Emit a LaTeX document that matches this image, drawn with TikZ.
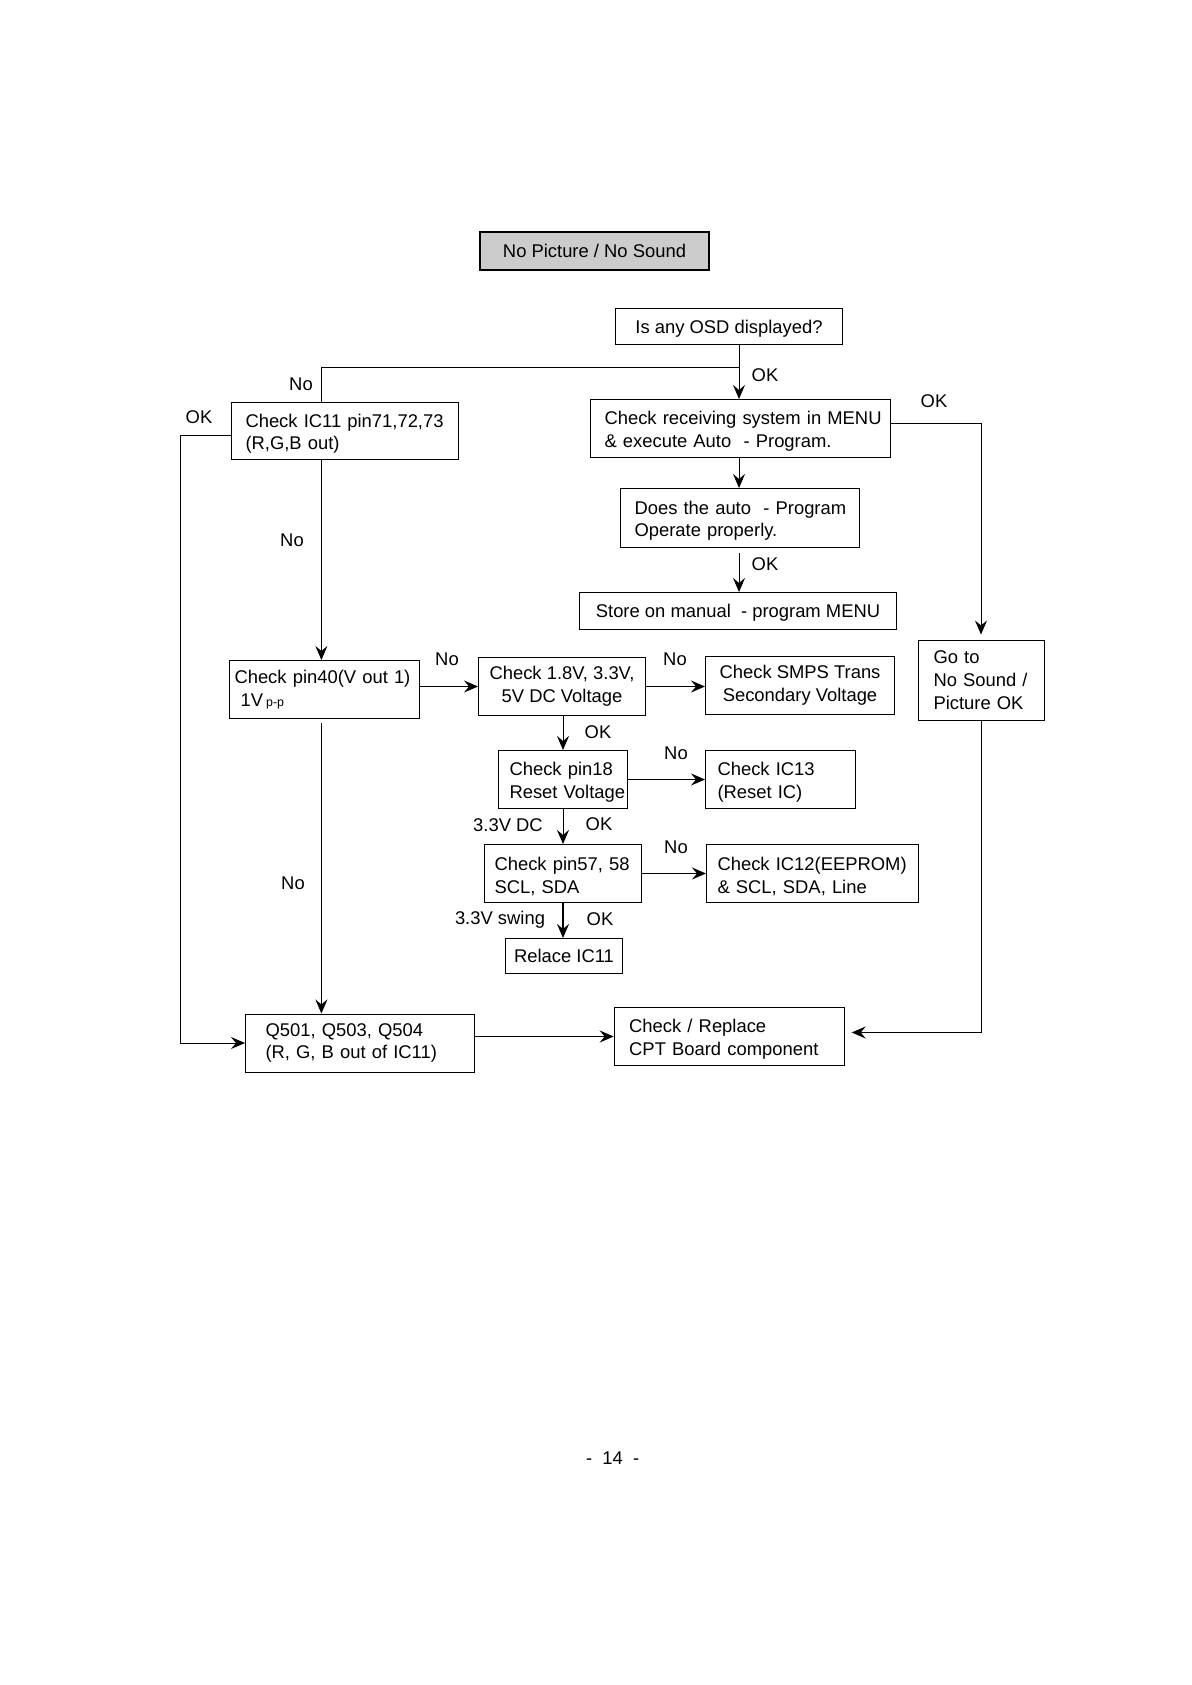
\documentclass[tikz,border=0pt]{standalone}
\usepackage{fontspec}
\setmainfont{Liberation Sans}
\usetikzlibrary{arrows.meta,calc}
\newcommand\mainfs{\fontsize{9.2}{11.3}\selectfont}
\newcommand\smallfs{\fontsize{6.2}{7}\selectfont}
\newcommand\tstrut{\rule{0pt}{9.4pt}}
\begin{document}
\begin{tikzpicture}[x=0.5pt,y=-0.5pt,
  every node/.style={font=\mainfs, inner sep=0pt},
  box/.style={draw, line width=0.5pt, anchor=north west, inner ysep=0pt},
  cbox/.style={box, align=center},
  lbox/.style={box, align=left},
  onel/.style={text depth=0pt},
  ml/.style={execute at begin node=\tstrut},
  ln/.style={line width=0.5pt},
  arr/.style={line width=0.5pt, -{Stealth[length=7pt,width=6pt,inset=2.5pt]}},
  arrthick/.style={line width=0.9pt, -{Stealth[length=7pt,width=6pt,inset=2.5pt]}},
  lab/.style={anchor=center}
]
\fill[white] (0,0) rectangle (1192,1685);
\useasboundingbox (0,0) rectangle (1192,1685);

% columns / rows
\coordinate (cL) at (321.4,0);
\coordinate (cM) at (739,0);
\coordinate (cR) at (981,0);
\coordinate (cLL) at (180.6,0);
\coordinate (cC) at (563,0);
\coordinate (jNo) at (739,367.6);
\coordinate (rOK) at (0,435);
\coordinate (rRecv) at (0,423.5);

% boxes
\node[cbox, fill=black!20, line width=1pt, minimum width=114.5pt, minimum height=19pt] (title) at (479,231) {No Picture / No Sound};
\node[cbox, onel, minimum width=113.5pt, minimum height=18pt] (osd) at (615,308) {Is any OSD displayed?};
\node[lbox, ml, inner xsep=7pt, text width=99.5pt, minimum height=28.5pt] (ic11) at (231,402)
  {\mbox{Check IC11 pin71,72,73}\\\mbox{(R,G,B out)}};
\node[lbox, ml, inner xsep=7pt, text width=136pt, minimum height=29pt] (recv) at (590,399)
  {\mbox{Check receiving system in MENU}\\\mbox{\& execute Auto\ \ - Program.}};
\node[lbox, ml, inner xsep=7pt, text width=105.5pt, minimum height=29.5pt] (does) at (620,488)
  {\mbox{Does the auto\ \ - Program}\\\mbox{Operate properly.}};
\node[cbox, onel, minimum width=158.5pt, minimum height=18.5pt] (store) at (579,592) {Store on manual\ \ - program MENU};
\node[lbox, inner xsep=7.5pt, text width=48pt, minimum height=40.25pt] (goto) at (918,639.5)
  {\mbox{Go to}\\\mbox{No Sound /}\\\mbox{Picture OK}};
\node[lbox, inner xsep=2.5pt, text width=90pt, minimum height=29pt] (pin40) at (229,660)
  {\mbox{Check pin40(V out 1)}\\\mbox{\ 1V\,{\smallfs p-p}}};
\node[cbox, ml, minimum width=83.5pt, minimum height=29pt] (v18) at (478,657)
  {Check 1.8V, 3.3V,\\5V DC Voltage};
\node[cbox, ml, minimum width=94.5pt, minimum height=29pt] (smps) at (705,656)
  {Check SMPS Trans\\Secondary Voltage};
\node[lbox, ml, inner xsep=5.5pt, text width=53.5pt, minimum height=29pt] (pin18) at (498,750)
  {\mbox{Check pin18}\\\mbox{Reset Voltage}};
\node[lbox, ml, inner xsep=6pt, text width=62.75pt, minimum height=29pt] (ic13) at (705,750)
  {\mbox{Check IC13}\\\mbox{(Reset IC)}};
\node[lbox, ml, inner xsep=5pt, text width=68.5pt, minimum height=29pt] (pin57) at (484,844)
  {\mbox{Check pin57, 58}\\\mbox{SCL, SDA}};
\node[lbox, ml, inner xsep=5.5pt, text width=95pt, minimum height=29pt] (ic12) at (706,844)
  {\mbox{Check IC12(EEPROM)}\\\mbox{\& SCL, SDA, Line}};
\node[cbox, minimum width=58.5pt, minimum height=17.5pt] (relace) at (505,938) {Relace IC11};
\node[lbox, inner xsep=10pt, text width=94.5pt, minimum height=29pt] (q501) at (245,1013.5)
  {\mbox{Q501, Q503, Q504}\\\mbox{(R, G, B out of IC11)}};
\node[lbox, ml, inner xsep=7.5pt, text width=100pt, minimum height=29pt] (chk) at (613.7,1007)
  {\mbox{Check / Replace}\\\mbox{CPT Board component}};

% connectors
\draw[arr] (osd.south -| cM) -- (recv.north -| cM);
\draw[ln] (jNo) -| (ic11.north -| cL);
\draw[arr] (recv.south -| cM) -- (does.north -| cM);
\draw[arr] ($(does.south -| cM)+(0,5)$) -- (store.north -| cM);
\draw[arr] (recv.east |- rRecv) -| ($(goto.north -| cR)+(0,-5)$);
\draw[arr] (ic11.west |- rOK) -| (cLL |- q501.west) -- (q501.west);
\draw[arr] (ic11.south -| cL) -- (pin40.north -| cL);
\draw[arr] (pin40.east |- v18.west) -- (v18.west);
\draw[arrthick] (v18.east) -- (v18.east -| smps.west);
\draw[arr] (v18.south -| cC) -- (pin18.north -| cC);
\draw[arr] (pin18.east) -- (pin18.east -| ic13.west);
\draw[arr] (pin18.south -| cC) -- (pin57.north -| cC);
\draw[arrthick] (pin57.east) -- (pin57.east -| ic12.west);
\draw[arrthick] (pin57.south -| cC) -- (relace.north -| cC);
\draw[arrthick] ($(pin40.south -| cL)+(0,4)$) -- (q501.north -| cL);
\draw[arrthick] (q501.east |- chk.west) -- (chk.west);
\draw[arr] (goto.south -| cR) |- ($(chk.east)+(7,-4)$);

% labels
\node[lab] (l1) at (301,384) {No};
\node[lab] (l2) at (765,375) {OK};
\node[lab] (l3) at (934,401) {OK};
\node[lab] (l4) at (199,417) {OK};
\node[lab] (l5) at (292,540) {No};
\node[lab] (l6) at (765,564) {OK};
\node[lab] (l7) at (447,659) {No};
\node[lab] (l8) at (675,659) {No};
\node[lab] (l9) at (598,732) {OK};
\node[lab] (l10) at (676,753) {No};
\node[lab] (l11) at (508,825) {3.3V DC};
\node[lab] (l12) at (599,824) {OK};
\node[lab] (l13) at (676,847) {No};
\node[lab] (l14) at (500,920) {3.3V swing};
\node[lab] (l15) at (600,919) {OK};
\node[lab] (l16) at (293,883.5) {No};
\node[lab] (page) at (612.6,1458.5) {-\ \ 14\ \ -};
\end{tikzpicture}
\end{document}
